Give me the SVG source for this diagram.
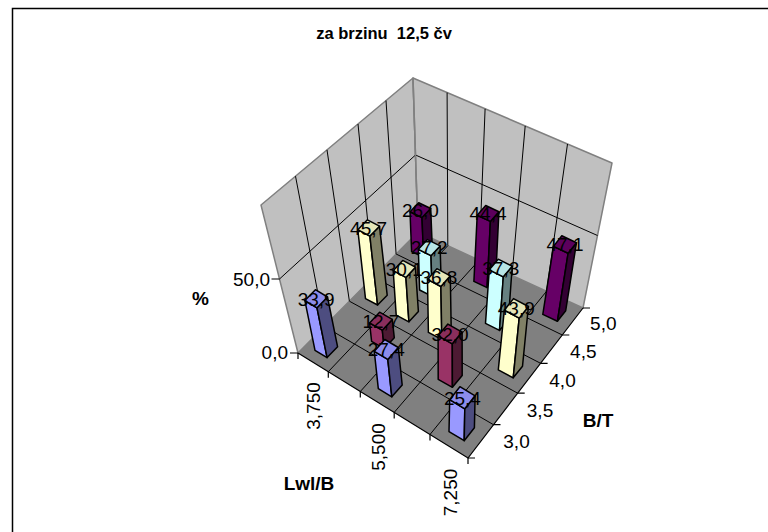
<svg xmlns="http://www.w3.org/2000/svg" width="768" height="532" viewBox="0 0 768 532">
<style>
.frame{fill:none;stroke:#000;stroke-width:1.5}
.wall{fill:#C0C0C0;stroke:#808080;stroke-width:1.5;stroke-linejoin:round}
.floor{fill:#808080;stroke:none}
.grid{fill:none;stroke:#000;stroke-width:1}
.axis{fill:none;stroke:#000;stroke-width:1.2}
.t{font-family:"Liberation Sans",Arial,sans-serif;font-size:19px;fill:#000}
.tb{font-family:"Liberation Sans",Arial,sans-serif;font-size:19px;font-weight:bold;fill:#000}
.title{font-family:"Liberation Sans",Arial,sans-serif;font-size:16.5px;font-weight:bold;fill:#000}
.dl{font-family:"Liberation Sans",Arial,sans-serif;font-size:19px;fill:#000;text-anchor:middle}
.bar polygon{stroke:#000;stroke-width:1.5;stroke-linejoin:round}
.s1 .f{fill:#9999FF}.s1 .r{fill:#4D4D80}.s1 .p{fill:#8C8CEB}
.s2 .f{fill:#993366}.s2 .r{fill:#4D1A33}.s2 .p{fill:#8A2E5C}
.s3 .f{fill:#FFFFCC}.s3 .r{fill:#808066}.s3 .p{fill:#E6E6B8}
.s4 .f{fill:#CCFFFF}.s4 .r{fill:#668080}.s4 .p{fill:#B8E6E6}
.s5 .f{fill:#660066}.s5 .r{fill:#330033}.s5 .p{fill:#5C005C}
</style>
<rect width="768" height="532" fill="#fff"/>
<path class="frame" d="M12.5 532 V8.5 H768"/>
<text class="title" x="384" y="38.5" text-anchor="middle" xml:space="preserve">za brzinu  12,5 čv</text>

<g id="walls">
<polygon class="wall" points="298,353 261,205 413,78 418,232"/>
<polygon class="wall" points="418,232 413,78 612,163 583,308"/>
<g class="grid">
<line x1="324.3" y1="326.5" x2="295.5" y2="176.2"/>
<line x1="349.4" y1="301.2" x2="327" y2="149.9"/>
<line x1="373.3" y1="277.1" x2="358" y2="124"/>
<line x1="396.1" y1="254" x2="386" y2="100.6"/>
<line x1="447.8" y1="245.7" x2="447.1" y2="92.6"/>
<line x1="479.1" y1="260.2" x2="485.1" y2="108.8"/>
<line x1="512" y1="275.3" x2="525.2" y2="125.9"/>
<line x1="546.6" y1="291.2" x2="567.5" y2="144"/>
<line x1="279.5" y1="279" x2="415.5" y2="155"/>
<line x1="415.5" y1="155" x2="597.5" y2="235.5"/>
</g>
<line x1="418" y1="232" x2="413" y2="78" stroke="#808080" stroke-width="1.5"/>
</g>

<g id="floor">
<polygon class="floor" points="298,353 468,458 583,308 418,232"/>
<g class="grid">
<line x1="328.3" y1="371.7" x2="447.8" y2="245.7"/>
<line x1="360.3" y1="391.5" x2="479.1" y2="260.2"/>
<line x1="394.2" y1="412.4" x2="512" y2="275.3"/>
<line x1="430" y1="434.5" x2="546.6" y2="291.2"/>
<line x1="324.3" y1="326.5" x2="493.5" y2="424.7"/>
<line x1="349.4" y1="301.2" x2="517.7" y2="393.2"/>
<line x1="373.3" y1="277.1" x2="540.6" y2="363.3"/>
<line x1="396.1" y1="254" x2="562.3" y2="335"/>
</g>
</g>

<g id="axes">
<path class="axis" d="M298,353 L468,458 L583,308"/>
<path class="axis" d="M298,353 H290 M279.5,279 H271.5"/>
<path class="axis" d="M298,353 v6 M328.3,371.7 v6 M360.3,391.5 v6 M394.2,412.4 v6 M430,434.5 v6 M468,458 v6"/>
<path class="axis" d="M468,458 h7 M493.5,424.7 h7 M517.7,393.2 h7 M540.6,363.3 h7 M562.3,335 h7 M583,308 h7"/>
<text class="t" x="270" y="286" text-anchor="end">50,0</text>
<text class="t" x="288" y="358.5" text-anchor="end">0,0</text>
<text class="tb" x="200.5" y="304.5" text-anchor="middle">%</text>
<text class="t" x="603.3" y="330" text-anchor="middle">5,0</text>
<text class="t" x="583.3" y="358.3" text-anchor="middle">4,5</text>
<text class="t" x="562.5" y="386.8" text-anchor="middle">4,0</text>
<text class="t" x="540" y="416.8" text-anchor="middle">3,5</text>
<text class="t" x="516.5" y="448.3" text-anchor="middle">3,0</text>
<text class="tb" x="598" y="426.8" text-anchor="middle">B/T</text>
<text class="t" transform="translate(313,406) rotate(-90)" x="0" y="6.8" text-anchor="middle">3,750</text>
<text class="t" transform="translate(378,447) rotate(-90)" x="0" y="6.8" text-anchor="middle">5,500</text>
<text class="t" transform="translate(450,492.5) rotate(-90)" x="0" y="6.8" text-anchor="middle">7,250</text>
<text class="tb" x="309" y="490.3" text-anchor="middle">Lwl/B</text>
</g>

<g id="connectors"></g>

<g id="bar-5-0-3750" class="bar s5">
<polygon class="f" points="411.6,251.6 423.6,257.2 422,217.5 410,211.8"/>
<polygon class="r" points="423.6,257.2 432.3,248.2 430.7,208.5 422,217.5"/>
<polygon class="p" points="410,211.8 422,217.5 430.7,208.5 418.7,202.8"/>
<text class="dl" x="420.4" y="216.9">26,0</text>
</g>
<g id="bar-4-5-4625" class="bar s4">
<polygon class="f" points="419.6,290 432.2,296.3 431,255.7 418.4,249.3"/>
<polygon class="r" points="432.2,296.3 441.3,286.6 440.1,245.9 431,255.7"/>
<polygon class="p" points="418.4,249.3 431,255.7 440.1,245.9 427.5,239.6"/>
<text class="dl" x="429.2" y="254.4">27,2</text>
</g>
<g id="bar-5-0-5500" class="bar s5">
<polygon class="f" points="473.9,281.4 487.1,287.6 490.4,221.4 477.2,215.2"/>
<polygon class="r" points="487.1,287.6 495.7,277.9 498.9,211.7 490.4,221.4"/>
<polygon class="p" points="477.2,215.2 490.4,221.4 498.9,211.7 485.7,205.5"/>
<text class="dl" x="488" y="220.2">44,4</text>
</g>
<g id="bar-4-0-3750" class="bar s3">
<polygon class="f" points="365.5,298.6 377.6,305 369.9,236.1 357.8,229.7"/>
<polygon class="r" points="377.6,305 387.2,295.2 379.5,226.2 369.9,236.1"/>
<polygon class="p" points="357.8,229.7 369.9,236.1 379.5,226.2 367.4,219.8"/>
<text class="dl" x="368.6" y="234.7">45,7</text>
</g>
<g id="bar-4-0-4625" class="bar s3">
<polygon class="f" points="396.2,315.1 408.9,321.8 405.9,277.4 393.2,270.7"/>
<polygon class="r" points="408.9,321.8 418.4,311.6 415.4,267.2 405.9,277.4"/>
<polygon class="p" points="393.2,270.7 405.9,277.4 415.4,267.2 402.7,260.4"/>
<text class="dl" x="404.3" y="275.7">30,1</text>
</g>
<g id="bar-5-0-7250" class="bar s5">
<polygon class="f" points="542.8,314.4 557.4,321.3 568.1,253.3 553.5,246.4"/>
<polygon class="r" points="557.4,321.3 565.7,310.7 576.5,242.7 568.1,253.3"/>
<polygon class="p" points="553.5,246.4 568.1,253.3 576.5,242.7 561.8,235.8"/>
<text class="dl" x="565" y="251.3">47,1</text>
</g>
<g id="bar-4-5-6375" class="bar s4">
<polygon class="f" points="485.5,323.4 499.5,330.4 503.3,276.8 489.3,269.8"/>
<polygon class="r" points="499.5,330.4 508.4,319.8 512.2,266.2 503.3,276.8"/>
<polygon class="p" points="489.3,269.8 503.3,276.8 512.2,266.2 498.2,259.2"/>
<text class="dl" x="500.8" y="274.8">37,3</text>
</g>
<g id="bar-4-0-5500" class="bar s3">
<polygon class="f" points="428.4,332.4 441.8,339.5 440.9,286.5 427.5,279.4"/>
<polygon class="r" points="441.8,339.5 451.2,328.8 450.3,275.8 440.9,286.5"/>
<polygon class="p" points="427.5,279.4 440.9,286.5 450.3,275.8 436.9,268.7"/>
<text class="dl" x="438.9" y="284.4">36,8</text>
</g>
<g id="bar-3-5-4625" class="bar s2">
<polygon class="f" points="371.6,341.4 384.3,348.6 382.3,330.2 369.6,323"/>
<polygon class="r" points="384.3,348.6 394.3,337.8 392.3,319.4 382.3,330.2"/>
<polygon class="p" points="369.6,323 382.3,330.2 392.3,319.4 379.6,312.2"/>
<text class="dl" x="380.9" y="328">12,7</text>
</g>
<g id="bar-3-0-3750" class="bar s1">
<polygon class="f" points="315,350.3 327.1,357.6 317,307.8 304.9,300.6"/>
<polygon class="r" points="327.1,357.6 337.6,346.8 327.5,297 317,307.8"/>
<polygon class="p" points="304.9,300.6 317,307.8 327.5,297 315.4,289.7"/>
<text class="dl" x="316.2" y="305.6">33,9</text>
</g>
<g id="bar-4-0-7250" class="bar s3">
<polygon class="f" points="498.3,369.9 513.2,377.8 519.2,318.1 504.3,310.2"/>
<polygon class="r" points="513.2,377.8 522.5,366.2 528.4,306.5 519.2,318.1"/>
<polygon class="p" points="504.3,310.2 519.2,318.1 528.4,306.5 513.5,298.6"/>
<text class="dl" x="516.3" y="315.1">43,9</text>
</g>
<g id="bar-3-5-6375" class="bar s2">
<polygon class="f" points="438.2,379.3 452.4,387.3 452.3,343.8 438.1,335.8"/>
<polygon class="r" points="452.4,387.3 462.2,375.6 462.1,332.1 452.3,343.8"/>
<polygon class="p" points="438.1,335.8 452.3,343.8 462.1,332.1 447.9,324.1"/>
<text class="dl" x="450.1" y="340.8">32,0</text>
</g>
<g id="bar-3-0-5500" class="bar s1">
<polygon class="f" points="378.3,388.7 391.8,396.8 387.8,359.4 374.3,351.3"/>
<polygon class="r" points="391.8,396.8 402.2,385 398.3,347.5 387.8,359.4"/>
<polygon class="p" points="374.3,351.3 387.8,359.4 398.3,347.5 384.8,339.5"/>
<text class="dl" x="386.3" y="356.2">27,4</text>
</g>
<g id="bar-3-0-7250" class="bar s1">
<polygon class="f" points="449,431.6 464.2,440.7 464.8,408.8 449.7,399.7"/>
<polygon class="r" points="464.2,440.7 474.4,427.7 475.1,395.8 464.8,408.8"/>
<polygon class="p" points="449.7,399.7 464.8,408.8 475.1,395.8 459.9,386.7"/>
<text class="dl" x="462.4" y="404.6">25,4</text>
</g>
</svg>
